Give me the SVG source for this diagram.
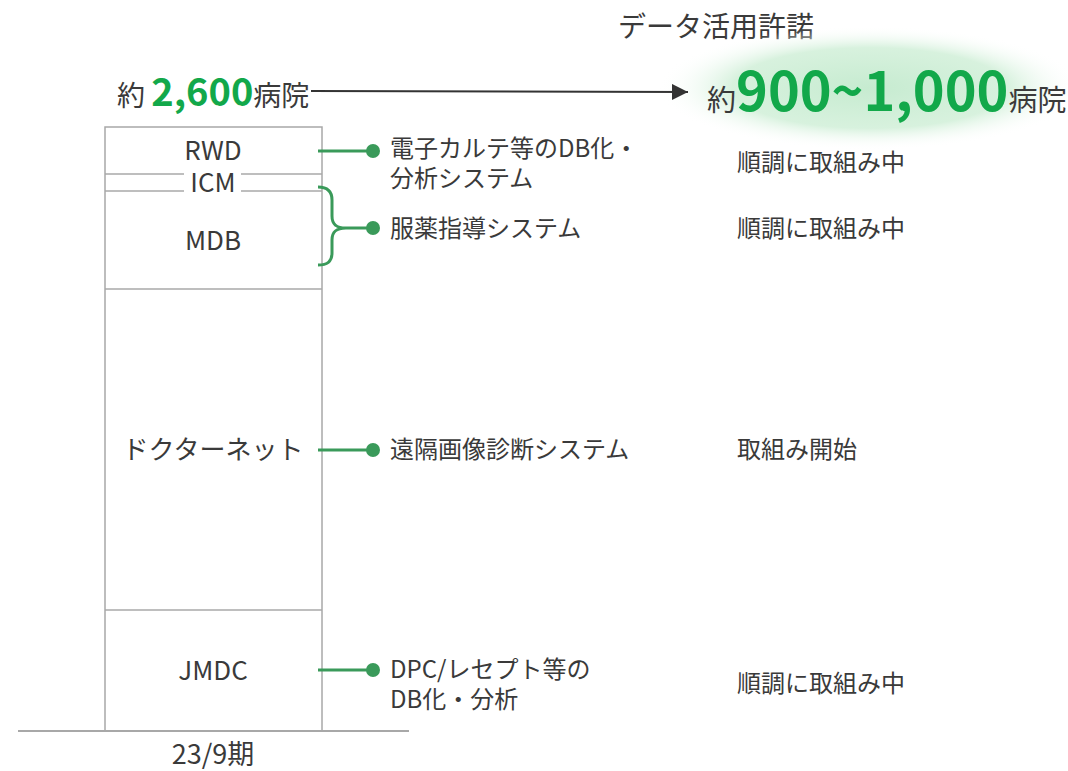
<svg xmlns="http://www.w3.org/2000/svg" width="1068" height="771" viewBox="0 0 1068 771">
<style>
text{font-family:"Noto Sans CJK JP","Noto Sans",sans-serif;fill:#3a3a3a}
.box{fill:none;stroke:#a8a8a8;stroke-width:1.5}
.lbl{font-size:26px;text-anchor:middle}
.desc{font-size:24px}
.stat{font-size:24px}
.green{fill:#12a84a;font-weight:bold}
.conn{fill:none;stroke:#3a9a5a;stroke-width:3}
.dot{fill:#3a9a5a}
</style>
<defs>
<radialGradient id="glow" cx="0.5" cy="0.5" r="0.5">
<stop offset="0" stop-color="#c6ebd0" stop-opacity="1"/>
<stop offset="0.65" stop-color="#d3f0da" stop-opacity="0.9"/>
<stop offset="1" stop-color="#ffffff" stop-opacity="0"/>
</radialGradient>
<marker id="arr" viewBox="0 0 10 10" refX="10" refY="5" markerWidth="16" markerHeight="16" markerUnits="userSpaceOnUse" orient="auto">
<path d="M0,0 L10,5 L0,10 Z" fill="#333"/>
</marker>
</defs>

<g id="title">
<text x="618" y="37" style="font-size:28px">データ活用許諾</text>
</g>

<g id="target">
<ellipse cx="870" cy="88" rx="212" ry="62" fill="url(#glow)"/>
<text x="707" y="111" style="font-size:29px">約<tspan class="green" style="font-size:54px">900~1,000</tspan>病院</text>
</g>

<g id="current">
<text x="117" y="106" style="font-size:28px">約 <tspan class="green" style="font-size:38px">2,600</tspan>病院</text>
</g>

<g id="stack">
<rect class="box" x="105" y="127" width="217" height="604"/>
<line class="box" x1="105" y1="174" x2="184" y2="174"/>
<line class="box" x1="241" y1="174" x2="322" y2="174"/>
<line class="box" x1="105" y1="191" x2="184" y2="191"/>
<line class="box" x1="241" y1="191" x2="322" y2="191"/>
<line class="box" x1="105" y1="289" x2="322" y2="289"/>
<line class="box" x1="105" y1="610" x2="322" y2="610"/>
<line x1="18" y1="731" x2="409" y2="731" stroke="#a8a8a8" stroke-width="2"/>
</g>

<g id="rwd"><text class="lbl" x="213" y="160">RWD</text></g>
<g id="icm"><text class="lbl" x="213" y="192">ICM</text></g>
<g id="mdb"><text class="lbl" x="213" y="250">MDB</text></g>
<g id="doctornet"><text class="lbl" x="213" y="459">ドクターネット</text></g>
<g id="jmdc"><text class="lbl" x="213" y="680">JMDC</text></g>
<g id="period"><text x="213" y="764" style="font-size:27px;text-anchor:middle">23/9期</text></g>

<g id="connectors">
<line class="conn" x1="318" y1="151" x2="372" y2="151"/>
<circle class="dot" cx="373" cy="151" r="7"/>
<path class="conn" d="M318,187 C328,187 332,192 332,200 L332,216 C332,224 336,228 346,228 L372,228 M346,228 C336,228 332,232 332,240 L332,253 C332,261 328,265 318,265"/>
<circle class="dot" cx="373" cy="228" r="7"/>
<line class="conn" x1="318" y1="450" x2="372" y2="450"/>
<circle class="dot" cx="373" cy="450" r="7"/>
<line class="conn" x1="318" y1="670" x2="372" y2="670"/>
<circle class="dot" cx="373" cy="670" r="7"/>
<line x1="311" y1="91" x2="688" y2="92" stroke="#333" stroke-width="2" marker-end="url(#arr)"/>
</g>

<g id="desc-rwd"><text class="desc" x="390" y="157">電子カルテ等のDB化・</text><text class="desc" x="390" y="187">分析システム</text></g>
<g id="desc-mdb"><text class="desc" x="390" y="237">服薬指導システム</text></g>
<g id="desc-dn"><text class="desc" x="390" y="458">遠隔画像診断システム</text></g>
<g id="desc-jmdc"><text class="desc" x="390" y="678">DPC/レセプト等の</text><text class="desc" x="390" y="708">DB化・分析</text></g>

<g id="status">
<text class="stat" x="737" y="171">順調に取組み中</text>
<text class="stat" x="737" y="237">順調に取組み中</text>
<text class="stat" x="737" y="458">取組み開始</text>
<text class="stat" x="737" y="692">順調に取組み中</text>
</g>
</svg>
